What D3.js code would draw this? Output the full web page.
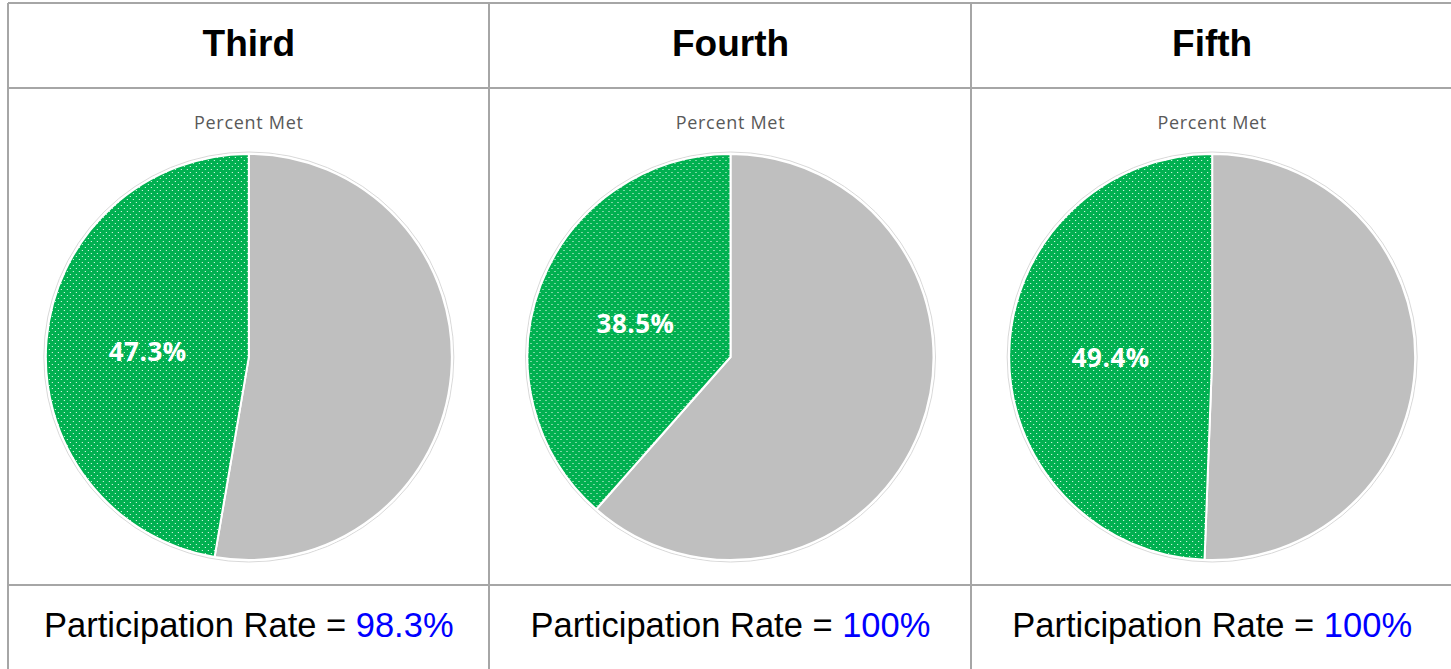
<!DOCTYPE html>
<html>
<head>
<meta charset="utf-8">
<script src="https://cdn.jsdelivr.net/npm/d3@7"></script>
<style>
  body { margin: 0; background: #fff; }
  svg { display: block; }
</style>
</head>
<body>
<svg width="1451" height="669"></svg>
<script>
// grades shown in the table
var grades = ["Third", "Fourth", "Fifth"];
// percent met per grade
var percentMet = [47.3, 38.5, 49.4];
// participation rate labels
var participation = ["98.3%", "100%", "100%"];
var chartTitle = "Percent Met";

var svg = d3.select("svg"),
  width = +svg.attr("width"),
  height = +svg.attr("height");

var defs = svg.append("defs");
// dotted fill like the office "5%" pattern
var pat = defs.append("pattern")
  .attr("id", "dots")
  .attr("patternUnits", "userSpaceOnUse")
  .attr("width", 6)
  .attr("height", 6);
pat.append("rect").attr("width", 6).attr("height", 6).attr("fill", "#00b050");
pat.append("rect").attr("x", 1).attr("y", 1).attr("width", 1).attr("height", 1).attr("fill", "#ffffff").attr("opacity", 0.95);
pat.append("rect").attr("x", 4).attr("y", 4).attr("width", 1).attr("height", 1).attr("fill", "#ffffff").attr("opacity", 0.95);

// table grid
var colEdges = [8, 489, 971, 1453];
var rowEdges = [3, 88, 585, 671];
var x = d3.scaleBand().domain(grades).range([colEdges[0], colEdges[3]]);

var grid = svg.append("g").attr("stroke", "#a6a6a6").attr("stroke-width", 2);
colEdges.forEach(function(cx) {
  grid.append("line").attr("x1", cx).attr("x2", cx).attr("y1", rowEdges[0]).attr("y2", rowEdges[3]);
});
rowEdges.forEach(function(ry) {
  grid.append("line").attr("x1", colEdges[0]).attr("x2", colEdges[3]).attr("y1", ry).attr("y2", ry);
});

var r = 203, cy = 357;
var pie = d3.pie().sort(null).value(function(d) { return d.v; });
var arc = d3.arc().innerRadius(0).outerRadius(r);

grades.forEach(function(g, i) {
  var cx = x(g) + x.bandwidth() / 2;

  // header
  svg.append("text")
    .attr("x", cx).attr("y", 56)
    .attr("text-anchor", "middle")
    .style("font-family", "'Liberation Sans', Arial, sans-serif")
    .style("font-weight", "bold")
    .style("font-size", "37px")
    .attr("fill", "#000")
    .text(g);

  // chart title
  svg.append("text")
    .attr("x", cx).attr("y", 129)
    .attr("text-anchor", "middle")
    .style("font-family", "'Open Sans', sans-serif")
    .style("font-size", "18px")
    .style("letter-spacing", "0.7px")
    .attr("fill", "#595959")
    .text(chartTitle);

  var data = [{ k: "not", v: 100 - percentMet[i] }, { k: "met", v: percentMet[i] }];
  var pg = svg.append("g").attr("transform", "translate(" + cx + "," + cy + ")");

  pg.append("circle").attr("r", r + 2).attr("fill", "none").attr("stroke", "#d9d9d9").attr("stroke-width", 1);

  pg.selectAll("path")
    .data(pie(data))
    .enter().append("path")
    .attr("d", arc)
    .attr("fill", function(d) { return d.data.k == "met" ? "url(#dots)" : "#bfbfbf"; })
    .attr("stroke", "#ffffff")
    .attr("stroke-width", 2);

  var metSlice = pie(data)[1];
  var c = arc.centroid(metSlice);
  pg.append("text")
    .attr("x", c[0]).attr("y", c[1] + 3)
    .attr("dy", "0.35em")
    .attr("text-anchor", "middle")
    .style("font-family", "'Open Sans', sans-serif")
    .style("font-weight", "bold")
    .style("font-size", "26px")
    .style("letter-spacing", "0.5px")
    .attr("fill", "#ffffff")
    .text(percentMet[i].toFixed(1) + "%");

  // footer
  var ft = svg.append("text")
    .attr("x", cx).attr("y", 637)
    .attr("text-anchor", "middle")
    .style("font-family", "'Liberation Sans', Arial, sans-serif")
    .style("font-size", "34.5px")
    .attr("fill", "#000");
  ft.append("tspan").text("Participation Rate = ");
  ft.append("tspan").attr("fill", "#0000ff").text(participation[i]);
});
</script>
</body>
</html>
